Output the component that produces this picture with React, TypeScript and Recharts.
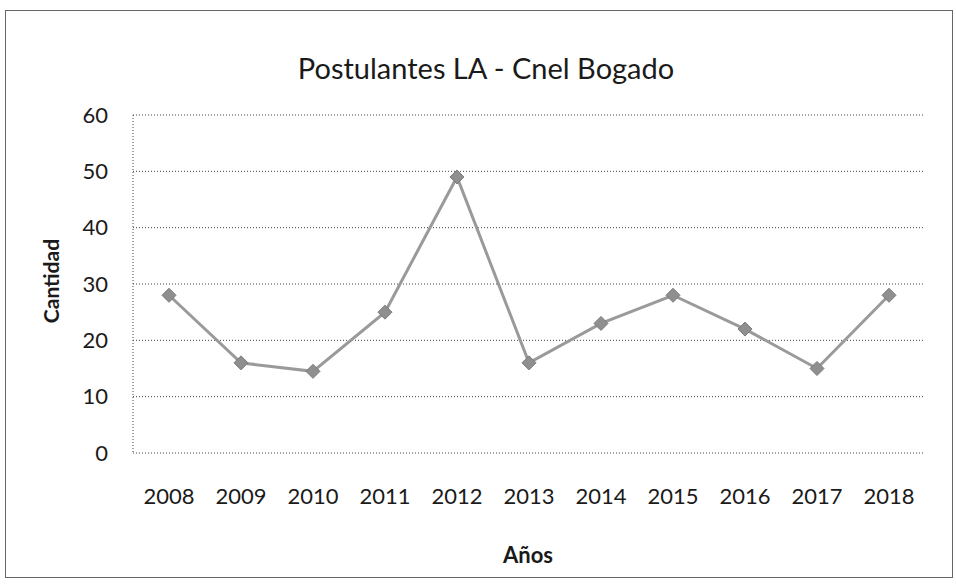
import { LineChart, Line, XAxis, YAxis, CartesianGrid } from "recharts";

const years = ["2008", "2009", "2010", "2011", "2012", "2013", "2014", "2015", "2016", "2017", "2018"];
const postulantes = [28, 16, 14.5, 25, 49, 16, 23, 28, 22, 15, 28];
const yTicks = [0, 10, 20, 30, 40, 50, 60];

const data = years.map((year, i) => ({ year, value: postulantes[i] }));

const FONT = "Lato, 'Open Sans', sans-serif";

// diamond marker like the Excel default
const Diamond = (props: any) => {
  const { cx, cy, index } = props;
  if (cx == null || cy == null) return null;
  const r = 7;
  return (
    <polygon
      key={`d-${index}`}
      points={`${cx},${cy - r} ${cx + r},${cy} ${cx},${cy + r} ${cx - r},${cy}`}
      fill="#8f8f8f"
      stroke="#7a7a7a"
      strokeWidth={1}
    />
  );
};

export default function App() {
  return (
    <div
      style={{
        position: "absolute",
        left: 5,
        top: 10,
        border: "1px solid #666",
        background: "#fff",
        width: 946,
        height: 566,
      }}
    >
      <LineChart
        width={946}
        height={566}
        data={data}
        margin={{ top: 104, right: 27, left: 0, bottom: 64 }}
        style={{ fontFamily: FONT }}
      >
        <CartesianGrid vertical={false} stroke="#444" strokeDasharray="1 2" />
        <XAxis
          dataKey="year"
          height={60}
          padding={{ left: 36, right: 36 }}
          axisLine={false}
          tickLine={false}
          tickSize={0}
          tickMargin={35}
          tick={{ fill: "#1a1a1a", fontSize: 22, fontFamily: FONT }}
        />
        <YAxis
          width={127}
          domain={[0, 60]}
          ticks={yTicks}
          axisLine={{ stroke: "#444", strokeDasharray: "1 2" }}
          tickLine={false}
          tickSize={0}
          tickMargin={25}
          tick={{ fill: "#1a1a1a", fontSize: 22, fontFamily: FONT }}
        />
        <Line
          type="linear"
          dataKey="value"
          stroke="#9a9a9a"
          strokeWidth={3}
          dot={Diamond}
          activeDot={false}
          isAnimationActive={false}
        />
        <text x={480} y={56} textAnchor="middle" dominantBaseline="central" fontSize={29} fill="#1a1a1a" fontFamily={FONT}>
          Postulantes LA - Cnel Bogado
        </text>
        <text x={522} y={543} textAnchor="middle" dominantBaseline="central" fontSize={22} fontWeight="bold" fill="#1a1a1a" fontFamily={FONT}>
          Años
        </text>
        <text
          x={44}
          y={270}
          textAnchor="middle"
          dominantBaseline="central"
          fontSize={21}
          fontWeight="bold"
          fill="#1a1a1a"
          fontFamily={FONT}
          transform="rotate(-90 44 270)"
        >
          Cantidad
        </text>
      </LineChart>
    </div>
  );
}
